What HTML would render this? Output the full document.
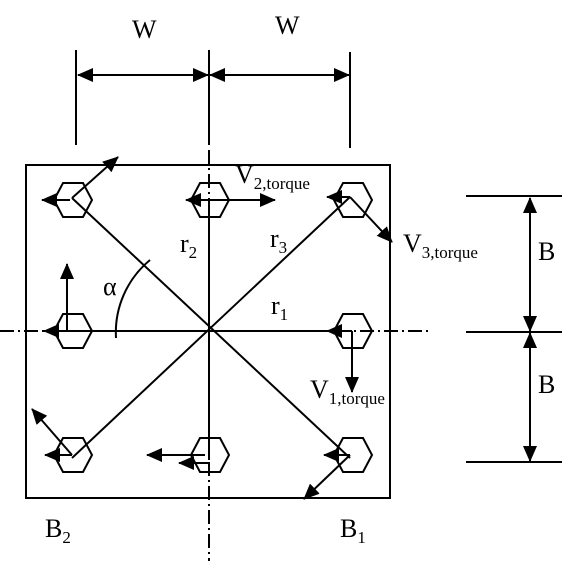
<!DOCTYPE html>
<html><head><meta charset="utf-8"><style>
html,body{margin:0;padding:0;background:#fff;}
svg{display:block;font-family:"Liberation Serif",serif;}
</style></head><body>
<svg width="577" height="561" viewBox="0 0 577 561">
<defs>
<marker id="ah" viewBox="0 0 16 14" refX="15" refY="7" markerWidth="8" markerHeight="7" orient="auto-start-reverse" markerUnits="strokeWidth"><path d="M0,0 L16,7 L0,14 z" fill="#000"/></marker>
</defs>
<g stroke="#000" stroke-width="2" fill="none">
<line x1="76" y1="50" x2="76" y2="145"/>
<line x1="350" y1="52" x2="350" y2="148"/>
<line x1="209" y1="50" x2="209" y2="145"/>
<line x1="78" y1="75" x2="208" y2="75" marker-start="url(#ah)" marker-end="url(#ah)"/>
<line x1="210" y1="75" x2="349" y2="75" marker-start="url(#ah)" marker-end="url(#ah)"/>
<rect x="26" y="165" width="364" height="333"/>
<line x1="209" y1="150" x2="209" y2="561" stroke-dasharray="14,4,2,4"/>
<line x1="0" y1="331" x2="428" y2="331" stroke-dasharray="14,4,2,4"/>
<line x1="72" y1="198" x2="350" y2="458"/>
<line x1="350" y1="197" x2="72" y2="458"/>
<line x1="209" y1="200" x2="209" y2="460"/>
<line x1="68" y1="331" x2="352" y2="331"/>
<path d="M116,338 A94,94 0 0 1 150,260"/>
<g>
<polygon points="54,200 63,183 83,183 92,200 83,217 63,217"/>
<polygon points="191,200 200,183 220,183 229,200 220,217 200,217"/>
<polygon points="334,200 343,183 363,183 372,200 363,217 343,217"/>
<polygon points="54,331 63,314 83,314 92,331 83,348 63,348"/>
<polygon points="334,331 343,314 363,314 372,331 363,348 343,348"/>
<polygon points="54,455 63,438 83,438 92,455 83,472 63,472"/>
<polygon points="191,455 200,438 220,438 229,455 220,472 200,472"/>
<polygon points="334,455 343,438 363,438 372,455 363,472 343,472"/>
</g>
<g>
<line x1="72" y1="198" x2="118" y2="157" marker-end="url(#ah)"/>
<line x1="70" y1="200" x2="42" y2="200" marker-end="url(#ah)"/>
<line x1="209" y1="200" x2="186" y2="200" marker-end="url(#ah)"/>
<line x1="209" y1="200" x2="275" y2="200" marker-end="url(#ah)"/>
<line x1="350" y1="197" x2="327" y2="197" marker-end="url(#ah)"/>
<line x1="350" y1="197" x2="392" y2="242" marker-end="url(#ah)"/>
<line x1="67" y1="331" x2="67" y2="264" marker-end="url(#ah)"/>
<line x1="67" y1="331" x2="44" y2="331" marker-end="url(#ah)"/>
<line x1="352" y1="331" x2="327" y2="331" marker-end="url(#ah)"/>
<line x1="352" y1="331" x2="352" y2="392" marker-end="url(#ah)"/>
<line x1="72" y1="455" x2="32" y2="409" marker-end="url(#ah)"/>
<line x1="72" y1="455" x2="45" y2="455" marker-end="url(#ah)"/>
<line x1="205" y1="455" x2="147" y2="455" marker-end="url(#ah)"/>
<line x1="209" y1="463" x2="179" y2="463" marker-end="url(#ah)"/>
<line x1="350" y1="455" x2="324" y2="455" marker-end="url(#ah)"/>
<line x1="350" y1="455" x2="304" y2="499" marker-end="url(#ah)"/>
</g>
<line x1="466" y1="196" x2="562" y2="196"/>
<line x1="466" y1="332" x2="562" y2="332"/>
<line x1="466" y1="462" x2="562" y2="462"/>
<line x1="530" y1="198" x2="530" y2="331" marker-start="url(#ah)" marker-end="url(#ah)"/>
<line x1="530" y1="333" x2="530" y2="461" marker-start="url(#ah)" marker-end="url(#ah)"/>
</g>
<g fill="#000" font-size="26">
<text x="132" y="38">W</text>
<text x="275" y="34">W</text>
<text x="538" y="260">B</text>
<text x="538" y="393">B</text>
<text x="103" y="295">α</text>
<text x="180" y="252">r<tspan font-size="17" dy="6">2</tspan></text>
<text x="270" y="247">r<tspan font-size="17" dy="6">3</tspan></text>
<text x="271" y="314">r<tspan font-size="17" dy="6">1</tspan></text>
<text x="235" y="183">V<tspan font-size="17" dy="6">2,torque</tspan></text>
<text x="403" y="252">V<tspan font-size="17" dy="6">3,torque</tspan></text>
<text x="310" y="398">V<tspan font-size="17" dy="6">1,torque</tspan></text>
<text x="45" y="537">B<tspan font-size="17" dy="6">2</tspan></text>
<text x="340" y="537">B<tspan font-size="17" dy="6">1</tspan></text>
</g>
</svg>
</body></html>
